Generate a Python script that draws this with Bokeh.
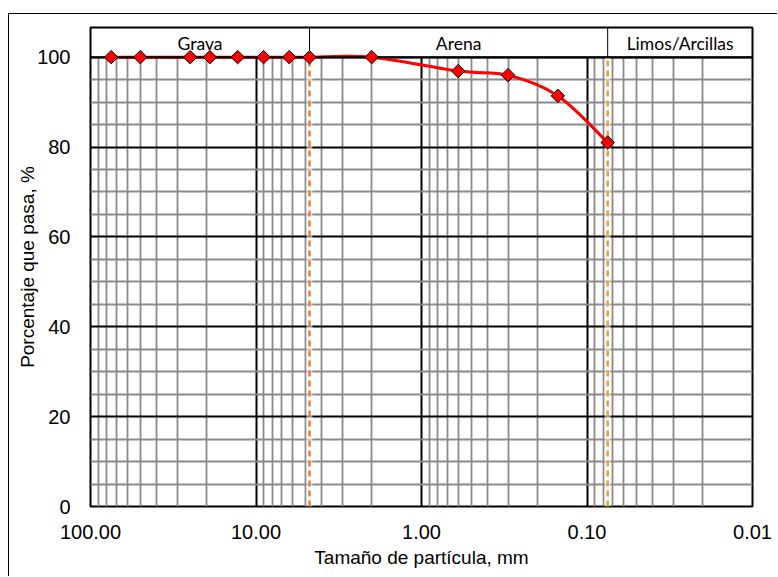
import numpy as np
from bokeh.plotting import figure
from bokeh.models import (Range1d, FixedTicker, NumeralTickFormatter, Title, Grid)
from bokeh.core.properties import value
from bokeh.embed import file_html
from bokeh.resources import INLINE

# ---- data ----
particle_size_mm = [75.0, 50.0, 25.0, 19.0, 12.9, 9.0, 6.3, 4.75, 2.0, 0.6, 0.3, 0.15, 0.075]
percent_passing = [100.0, 100.0, 100.0, 100.0, 100.0, 100.0, 100.0, 100.0, 100.0, 96.9, 96.0, 91.4, 81.0]
soil_classes = ["Grava", "Arena", "Limos/Arcillas"]
class_limits_mm = [100.0, 4.75, 0.075, 0.01]
limit_line_colors = ["#ED7D31", "#E6A32E"]
x_ticks = [100, 10, 1, 0.1, 0.01]
x_minor_ticks = [m * 10.0 ** e for e in range(-2, 2) for m in range(2, 10)]
y_ticks = [0, 20, 40, 60, 80, 100]
y_minor_ticks = [v for v in range(5, 100, 5) if v % 20]
y_top = 106.6
band_label_y = 103.0

FONT = "Liberation Sans"

p = figure(width=769, height=563, x_axis_type="log",
           x_range=Range1d(100, 0.01), y_range=Range1d(0, y_top),
           output_backend="svg", toolbar_location=None,
           min_border_left=81, min_border_right=26,
           min_border_top=13, min_border_bottom=71,
           background_fill_color="white", border_fill_color="white")
p.margin = (13, 0, 0, 8)
p.styles = {"border-left": "1px solid black", "border-top": "1px solid black"}
p.outline_line_color = "black"
p.outline_line_width = 2

# x axis
xt = FixedTicker(ticks=x_ticks, minor_ticks=x_minor_ticks)
xa = p.xaxis[0]
xa.ticker = xt
xa.formatter = NumeralTickFormatter(format="0.00")
xa.axis_line_color = None
xa.major_tick_line_color = None
xa.minor_tick_line_color = None
xa.major_tick_out = 0
xa.minor_tick_out = 0
xa.major_tick_in = 0
xa.minor_tick_in = 0
xa.major_label_text_font = FONT
xa.major_label_text_font_size = "20px"
xa.major_label_text_color = "black"
xa.major_label_standoff = 18
xa.axis_label = "Tamaño de partícula, mm"
xa.axis_label_text_font = FONT
xa.axis_label_text_font_size = "19px"
xa.axis_label_text_font_style = "normal"
xa.axis_label_text_color = "black"
xa.axis_label_standoff = 5

# y axis
yt = FixedTicker(ticks=y_ticks, minor_ticks=y_minor_ticks)
ya = p.yaxis[0]
ya.ticker = yt
ya.axis_line_color = None
ya.major_tick_line_color = None
ya.minor_tick_line_color = None
ya.major_tick_out = 0
ya.minor_tick_out = 0
ya.major_tick_in = 0
ya.minor_tick_in = 0
ya.major_label_text_font = FONT
ya.major_label_text_font_size = "20px"
ya.major_label_text_color = "black"
ya.major_label_standoff = 20

# y axis title (shifted down to centre on the 0-100 part)
ytitle = Title(text="Porcentaje que pasa, %", align="center", offset=-16,
               standoff=0, text_font=FONT, text_font_size="19px",
               text_font_style="normal", text_color="black")
try:
    ytitle.standoff = -6
except Exception:
    pass
p.add_layout(ytitle, "left")

# grids
for g, t in ((p.xgrid[0], xt), (p.ygrid[0], yt)):
    g.ticker = t
    g.grid_line_color = "black"
    g.grid_line_width = 2
    g.minor_grid_line_color = "#8a8a8a"
    g.minor_grid_line_width = 1.8
if "cross_bounds" in Grid.properties():
    p.xgrid[0].cross_bounds = (0, 100)
else:
    p.quad(left=[class_limits_mm[0]], right=[class_limits_mm[-1]], bottom=[100], top=[y_top],
           fill_color="white", line_color=None)

# class limits: dashed lines, with a light halo
lims = class_limits_mm[1:3]
p.segment(x0=lims, x1=lims, y0=[0, 0], y1=[100, 100], line_color="white",
          line_width=6, line_alpha=0.55)
p.segment(x0=lims, x1=lims, y0=[0, 0], y1=[100, 100], line_color=limit_line_colors,
          line_width=2.5, line_dash="6 4")
# band dividers
p.segment(x0=lims, x1=lims, y0=[100, 100], y1=[y_top, y_top], line_color="black", line_width=1)

band_centers = [10 ** ((np.log10(a) + np.log10(b)) / 2)
                for a, b in zip(class_limits_mm[:-1], class_limits_mm[1:])]
p.text(x=band_centers, y=[band_label_y] * 3, text=soil_classes,
       text_font=value("Lato"), text_font_size="17.5px", text_align="center",
       text_baseline="middle", text_color="black")

# smoothed curve (Catmull-Rom -> Bezier in log-x space)
P = np.column_stack([np.log10(particle_size_mm), np.array(percent_passing, float)])
ext = np.vstack([P[0], P, P[-1]])
c0 = P[:-1] + (ext[2:-1] - ext[:-3]) / 6.0
c1 = P[1:] - (ext[3:] - ext[1:-2]) / 6.0
p.bezier(x0=10 ** P[:-1, 0], y0=P[:-1, 1], x1=10 ** P[1:, 0], y1=P[1:, 1],
         cx0=10 ** c0[:, 0], cy0=c0[:, 1], cx1=10 ** c1[:, 0], cy1=c1[:, 1],
         line_color="#FF0000", line_width=3)
# bottom border of the classification band (drawn over the curve)
p.segment(x0=[class_limits_mm[0]], x1=[class_limits_mm[-1]], y0=[100], y1=[100],
          line_color="black", line_width=2)
p.scatter(particle_size_mm, percent_passing, marker="square", size=9.5, angle=np.pi / 4,
          fill_color="#FF0000", line_color="black", line_width=1)

open("out.html", "w").write(file_html(p, INLINE))
